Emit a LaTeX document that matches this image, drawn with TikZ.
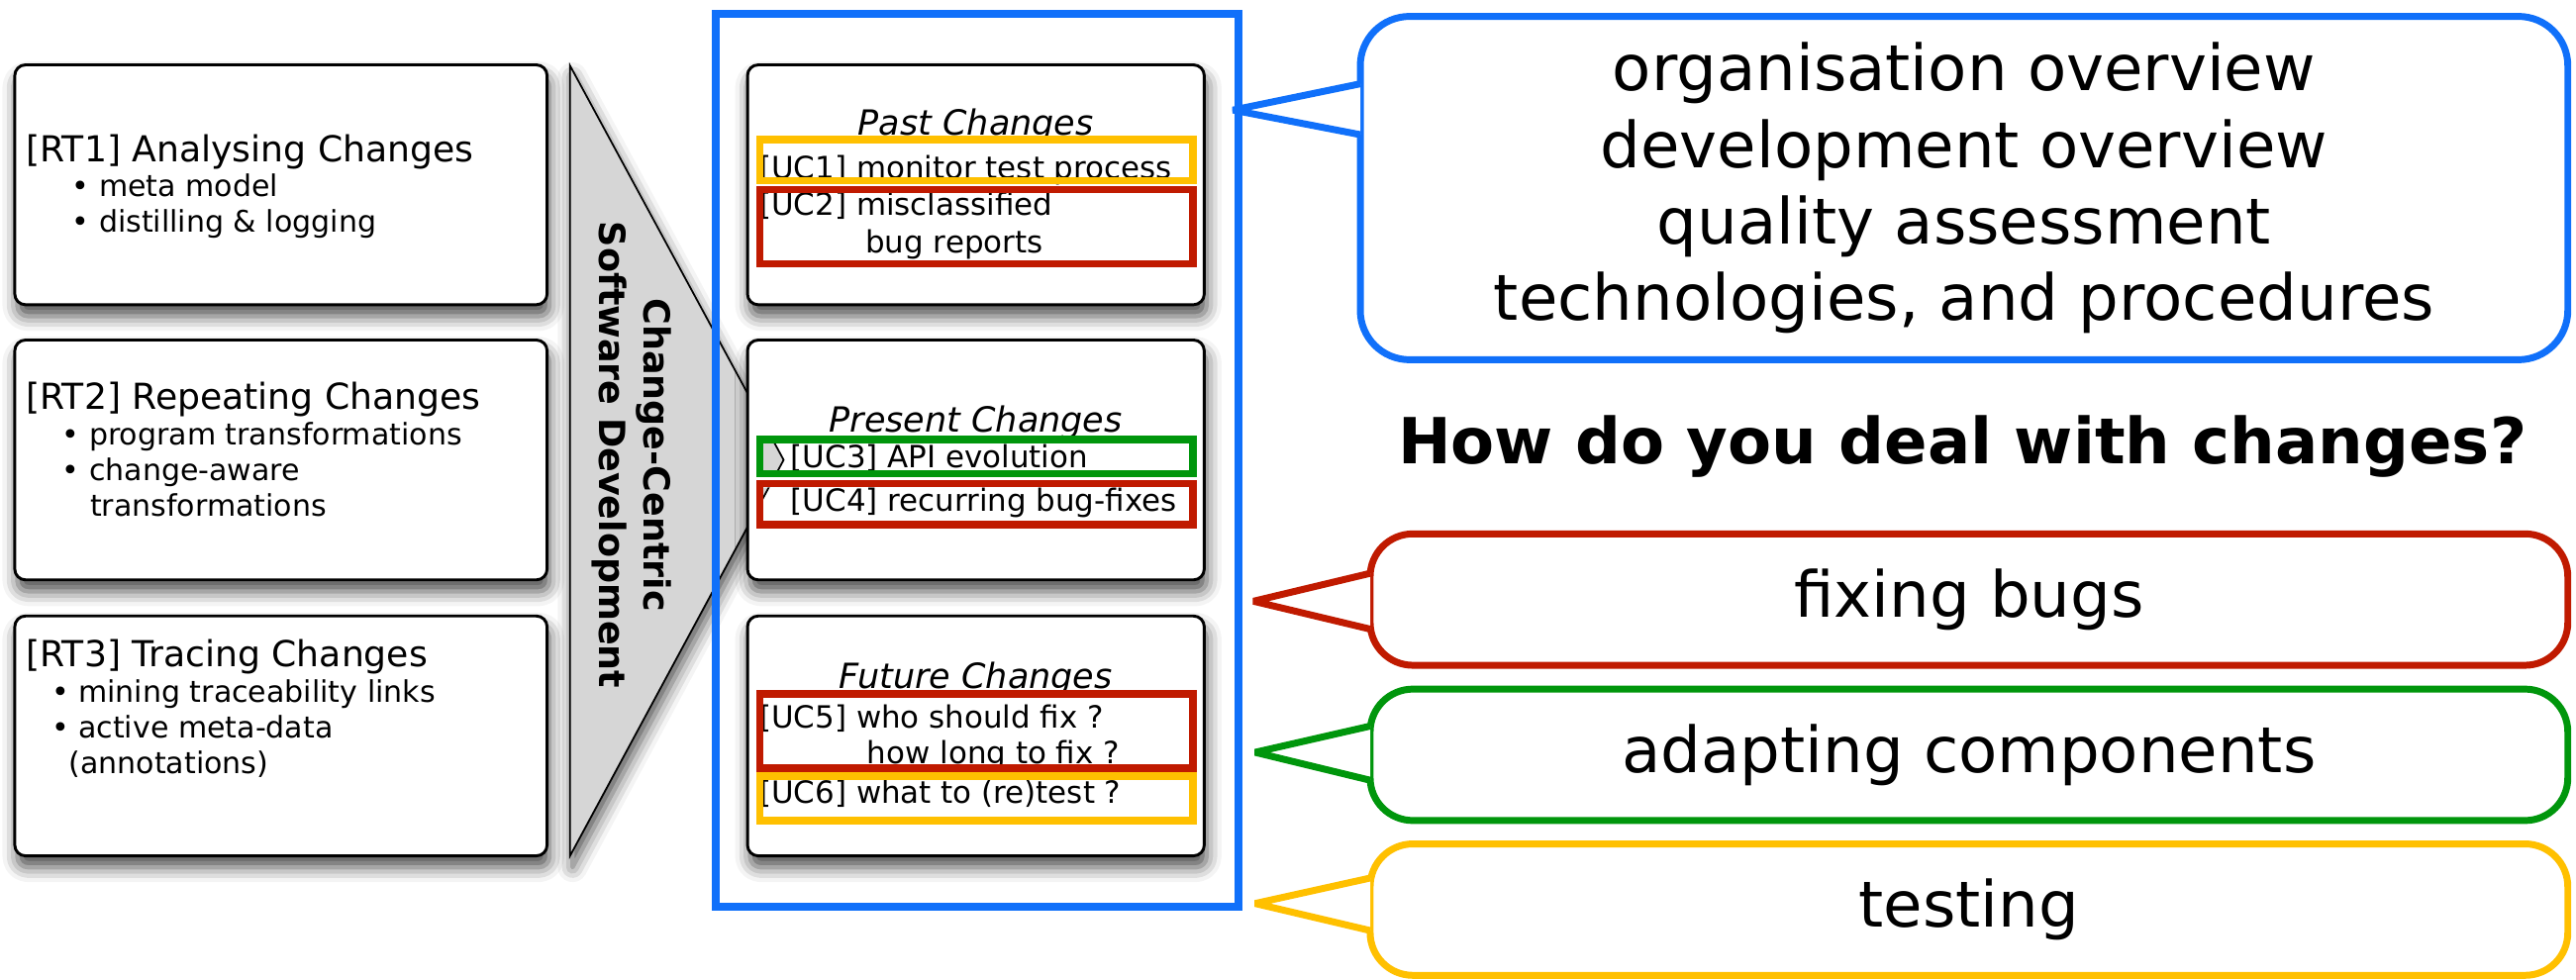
\documentclass[tikz,border=0pt]{standalone}
\usepackage{fontspec}
\setmainfont{DejaVu Sans}
\usetikzlibrary{shadows.blur}

\definecolor{ccblue}{RGB}{16,112,250}
\definecolor{ccred}{RGB}{192,26,0}
\definecolor{ccgreen}{RGB}{0,150,12}
\definecolor{ccyellow}{RGB}{255,192,0}
\definecolor{funnelgray}{RGB}{214,214,214}

\begin{document}
\begin{tikzpicture}[
        x=0.2mm, y=-0.2mm,
        boxshadow/.style={blur shadow={shadow xshift=0.3mm, shadow yshift=-1.4mm, shadow blur radius=1.8mm, shadow opacity=70}},
        rtbox/.style={rectangle, draw=black, line width=1pt, fill=white, rounded corners=1.3mm, minimum width=64.8mm, minimum height=29.2mm, boxshadow},
        rttext/.style={anchor=north west, align=left, inner sep=0pt, font=\fontsize{10.3}{12.3}\selectfont},
        phasebox/.style={rtbox, minimum width=55.6mm},
        phasetitle/.style={anchor=base, inner sep=0pt, font=\itshape\fontsize{12}{14}\selectfont},
        ucframe/.style={rectangle, fill=white, inner sep=0pt, outer sep=0pt, minimum width=52.7mm},
        ucline/.style={line width=0.9mm},
        uctext/.style={anchor=base west, inner sep=0pt, font=\fontsize{10.6}{12.6}\selectfont},
        bubble/.style={rectangle, fill=white, line width=0.84mm, rounded corners=5.2mm, minimum width=145.8mm, minimum height=16mm, inner sep=0pt, align=center, font=\fontsize{22}{26.5}\selectfont},
        pointer/.style={line width=0.84mm, line join=bevel, fill=white},
        ]
        \useasboundingbox (0,0) rectangle (1568,596);

        % funnel
        \coordinate (ftop) at (347,40);
        \coordinate (fapex) at (477,280);
        \coordinate (fbot) at (347,521);
        \draw[fill=funnelgray, line width=0.6pt, boxshadow] (ftop) -- (fapex) -- (fbot) -- cycle;
        \node (ccsd) at (384.5,277) [rotate=-90, align=center, inner sep=0pt, font=\bfseries\fontsize{12.5}{15.4}\selectfont] {Change-Centric\\Software Development};

        % research topics
        \node (rt1) at (171,112.5) [rtbox] {};
        \node (rt2) at (171,280) [rtbox] {};
        \node (rt3) at (171,448) [rtbox] {};
        \node (rt1txt) at (15.5,81.4) [rttext] {{\fontsize{12.4}{12.3}\selectfont [RT1] Analysing Changes}\\\hspace*{5.6mm}• meta model\\\hspace*{5.6mm}• distilling \& logging};
        \node (rt2txt) at (15.5,232.4) [rttext] {{\fontsize{12.4}{12.3}\selectfont [RT2] Repeating Changes}\\\hspace*{4.4mm}• program transformations\\\hspace*{4.4mm}• change-aware\\\hspace*{7.8mm}transformations};
        \node (rt3txt) at (15.5,389.1) [rttext] {{\fontsize{12.4}{12.3}\selectfont [RT3] Tracing Changes}\\\hspace*{3.1mm}• mining traceability links\\\hspace*{3.1mm}• active meta-data\\\hspace*{5.2mm}(annotations)};

        % use cases
        \node (usecases) at (594.75,280.25) [draw=ccblue, line width=0.94mm, minimum width=63.7mm, minimum height=108.7mm] {};
        \node (past) at (594,112.5) [phasebox] {};
        \node (present) at (594,280) [phasebox] {};
        \node (future) at (594,448) [phasebox] {};
        \node (pasttitle) at (594,82.4) [phasetitle] {Past Changes};
        \node (presenttitle) at (594,263) [phasetitle] {Present Changes};
        \node (futuretitle) at (594,419) [phasetitle] {Future Changes};

        \node (uc1) at (594.25,97.6) [ucframe, minimum height=5mm] {};
        \node (uc2) at (594.25,138) [ucframe, minimum height=9mm] {};
        \node (uc3) at (594.25,278) [ucframe, minimum height=4.2mm] {};
        \node (uc4) at (594.25,307) [ucframe, minimum height=5mm] {};
        \node (uc5) at (594.25,445) [ucframe, minimum height=9mm] {};
        \node (uc6) at (594.25,486) [ucframe, minimum height=5.4mm] {};

        \begin{scope}
            \clip ([shift={(2.25,2.25)}]uc3.north west) rectangle ([shift={(-2.25,-2.25)}]uc3.south east)
                  ([shift={(2.25,2.25)}]uc4.north west) rectangle ([shift={(-2.25,-2.25)}]uc4.south east);
            \draw[fill=funnelgray, line width=0.6pt] (ftop) -- (fapex) -- (fbot) -- cycle;
        \end{scope}

        \node (uc1a) at (462,108.5) [uctext] {[UC1] monitor test process};
        \node (uc2a) at (462,131) [uctext] {[UC2] misclassified};
        \node (uc2b) at (526.5,153.7) [uctext] {bug reports};
        \node (uc3a) at (481,285) [uctext] {[UC3] API evolution};
        \node (uc4a) at (481,311) [uctext] {[UC4] recurring bug-fixes};
        \node (uc5a) at (462,443.5) [uctext] {[UC5] who should fix ?};
        \node (uc5b) at (527.5,465) [uctext] {how long to fix ?};
        \node (uc6a) at (462,489) [uctext] {[UC6] what to (re)test ?};

        \draw[ucline, ccyellow] (uc1.north west) rectangle (uc1.south east);
        \draw[ucline, ccred] (uc2.north west) rectangle (uc2.south east);
        \draw[ucline, ccgreen] (uc3.north west) rectangle (uc3.south east);
        \draw[ucline, ccred] (uc4.north west) rectangle (uc4.south east);
        \draw[ucline, ccred] (uc5.north west) rectangle (uc5.south east);
        \draw[ucline, ccyellow] (uc6.north west) rectangle (uc6.south east);

        % callouts
        \node (overview) at (1195.5,114.5) [bubble, draw=ccblue, rounded corners=6mm, minimum width=147mm, minimum height=41.8mm] {organisation overview\\development overview\\quality assessment\\technologies, and procedures};
        \node (question) at (1194.5,282.6) [anchor=base, inner sep=0pt, font=\bfseries\fontsize{22}{26}\selectfont] {How do you deal with changes?};
        \node (bugs) at (1198.5,365) [bubble, draw=ccred] {fixing bugs};
        \node (adapt) at (1198.5,459.5) [bubble, draw=ccgreen] {adapting components};
        \node (testing) at (1198.5,553.75) [bubble, draw=ccyellow] {testing};

        \coordinate (overviewtip) at (750.5,67);
        \coordinate (bugstip) at (763,366);
        \coordinate (adapttip) at (764,458);
        \coordinate (testingtip) at (764,550);
        \draw[pointer, draw=ccblue] ([shift={(2.2,-63.5)}]overview.west) -- (overviewtip) -- ([shift={(2.2,-32.5)}]overview.west);
        \draw[pointer, draw=ccred] ([shift={(2.2,-16)}]bugs.west) -- (bugstip) -- ([shift={(2.2,18)}]bugs.west);
        \draw[pointer, draw=ccgreen] ([shift={(2.2,-17.5)}]adapt.west) -- (adapttip) -- ([shift={(2.2,15.5)}]adapt.west);
        \draw[pointer, draw=ccyellow] ([shift={(2.2,-19.25)}]testing.west) -- (testingtip) -- ([shift={(2.2,12.75)}]testing.west);

    \end{tikzpicture}
\end{document}
